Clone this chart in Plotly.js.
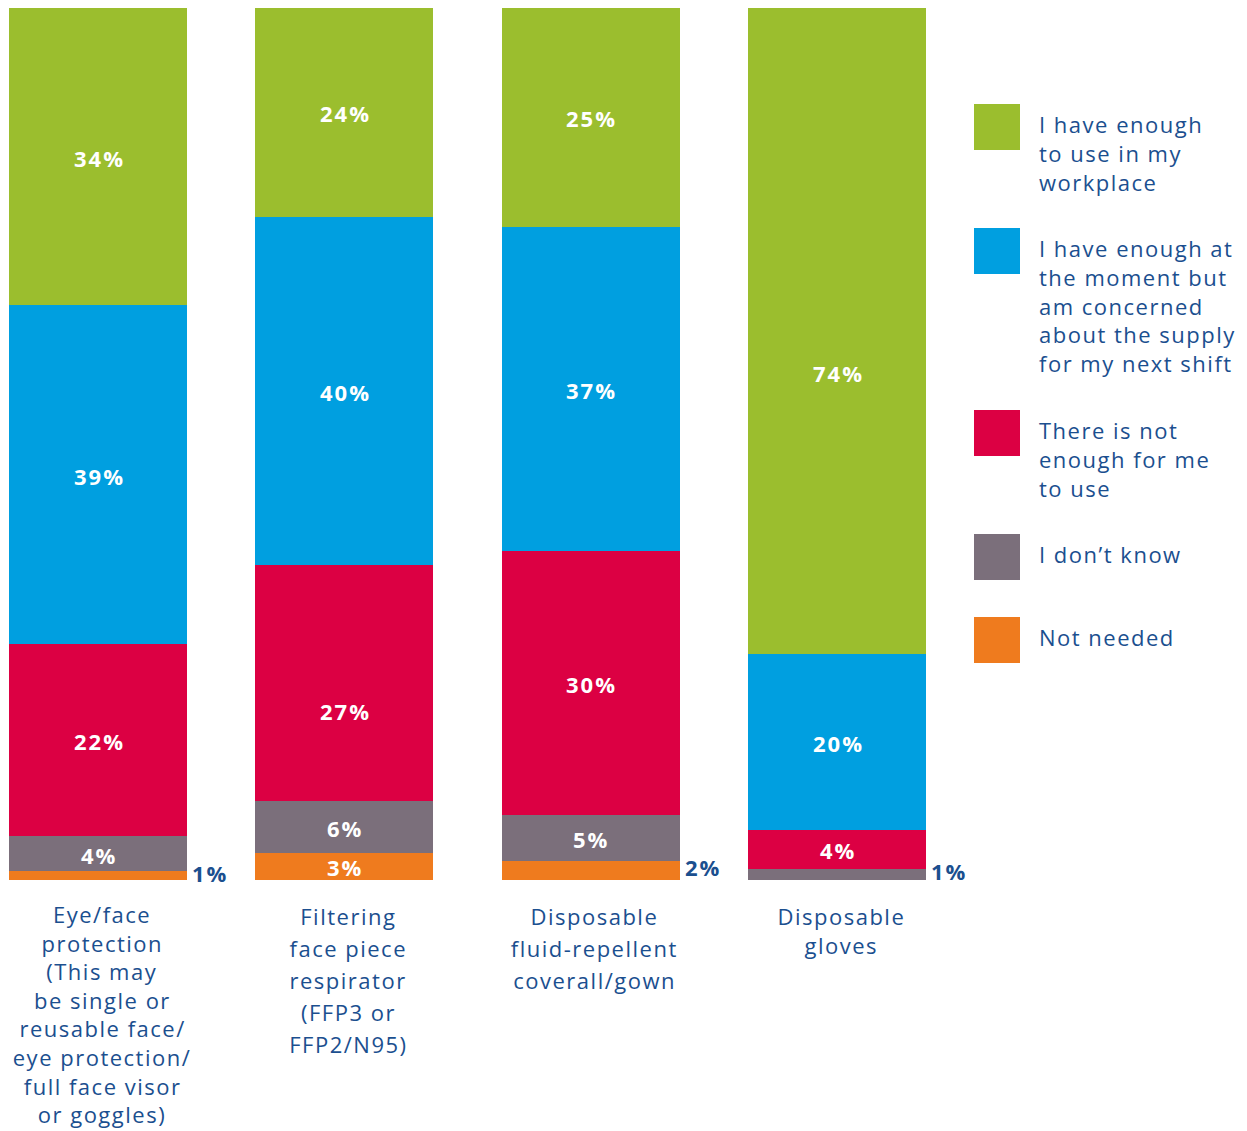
<!DOCTYPE html>
<html>
<head>
<meta charset="utf-8">
<script src="https://cdn.plot.ly/plotly-3.0.1.min.js"></script>
<style>
html,body{margin:0;padding:0;background:#fff;}
#chart .annotation-text{letter-spacing:1.5px;}
#chart .annotation-text[style*="700"]{letter-spacing:2px;}
</style>
</head>
<body>
<div id="chart" style="width:1247px;height:1131px"></div>
<script>
// ---------- DATA ----------
const categories = [
  "Eye/face protection (This may be single or reusable face/ eye protection/ full face visor or goggles)",
  "Filtering face piece respirator (FFP3 or FFP2/N95)",
  "Disposable fluid-repellent coverall/gown",
  "Disposable gloves"
];
const categoryLines = [
  ["Eye/face", "protection", "(This may", "be single or", "reusable face/", "eye protection/", "full face visor", "or goggles)"],
  ["Filtering", "face piece", "respirator", "(FFP3 or", "FFP2/N95)"],
  ["Disposable", "fluid-repellent", "coverall/gown"],
  ["Disposable", "gloves"]
];
const seriesNames = [
  "I have enough to use in my workplace",
  "I have enough at the moment but am concerned about the supply for my next shift",
  "There is not enough for me to use",
  "I don\u2019t know",
  "Not needed"
];
const legendLines = [
  ["I have enough", "to use in my", "workplace"],
  ["I have enough at", "the moment but", "am concerned", "about the supply", "for my next shift"],
  ["There is not", "enough for me", "to use"],
  ["I don\u2019t know"],
  ["Not needed"]
];
const haveEnough     = [34.1, 24.1, 25.2, 74.2];
const concerned      = [38.8, 39.9, 37.2, 20.2];
const notEnough      = [22.1, 27.0, 30.2, 4.4];
const dontKnow       = [4.0, 6.0, 5.3, 1.3];
const notNeeded      = [1.0, 3.1, 2.2, 0];

// ---------- STYLE ----------
const colors = ["#9bbe2e", "#009fe0", "#dc0043", "#7b6f7b", "#ef7b1e"];
const textBlue = "#1b4f8f";
const FONT = "Open Sans, Liberation Sans, sans-serif";
const seriesValues = [haveEnough, concerned, notEnough, dontKnow, notNeeded];

// plot-area pixel geometry
const L = 9, R = 926, T = 8, B = 880;
const W = R - L, H = B - T;
const px = x => (x - L) / W;
const py = y => (B - y) / H;

// bottom-to-top stacking order
const stackOrder = [4, 3, 2, 1, 0];
const traces = stackOrder.map(s => ({
  type: "bar",
  name: seriesNames[s],
  x: categories.map((c, i) => i),
  y: seriesValues[s],
  marker: {color: colors[s], line: {width: 0}},
  showlegend: false,
  hoverinfo: "skip"
}));

const annotations = [];
const labelNudge = {"2-1": -27, "0-3": -41}; // series-category pixel nudges
categories.forEach((c, i) => {
  let base = 0;
  stackOrder.forEach(s => {
    const v = seriesValues[s][i];
    if (v > 0) {
      const label = Math.round(v) + "%";
      const mid = base + v / 2;
      if (v >= 2.5) {
        annotations.push({
          x: i, y: mid, xref: "x", yref: "y", text: label, showarrow: false,
          xshift: 1, yshift: (labelNudge[s + "-" + i] || 0) - 1,
          font: {family: FONT, size: 22, color: "#ffffff", weight: 700}
        });
      } else {
        annotations.push({
          x: i + 0.3613, y: mid, xref: "x", yref: "y", text: label, showarrow: false,
          xanchor: "left", align: "left", xshift: 3, yshift: 3,
          font: {family: FONT, size: 22, color: textBlue, weight: 700}
        });
      }
    }
    base += v;
  });
});

// category labels below bars
const catLineGap = [28.6, 32, 32, 29];
const catFirstLine = [914, 916, 916, 916];
categoryLines.forEach((lines, i) => {
  lines.forEach((t, j) => {
    annotations.push({
      x: i, xref: "x", xshift: 4, y: py(catFirstLine[i] + j * catLineGap[i]), yref: "paper",
      text: t, showarrow: false, xanchor: "center", yanchor: "middle",
      font: {family: FONT, size: 22, color: textBlue}
    });
  });
});

// custom legend
const swatchTop = [104, 228, 410, 534, 617];
const shapes = [];
seriesNames.forEach((n, s) => {
  shapes.push({
    type: "rect", xref: "paper", yref: "paper",
    x0: px(974), x1: px(1020), y0: py(swatchTop[s] + 46), y1: py(swatchTop[s]),
    fillcolor: colors[s], line: {width: 0}
  });
  legendLines[s].forEach((t, j) => {
    annotations.push({
      x: px(1037), xref: "paper", y: py(swatchTop[s] + 20 + j * 28.8), yref: "paper",
      text: t, showarrow: false, xanchor: "left", align: "left", yanchor: "middle",
      font: {family: FONT, size: 22, color: textBlue}
    });
  });
});

const layout = {
  width: 1247, height: 1131,
  margin: {l: L, r: 1247 - R, t: T, b: 1131 - B, pad: 0},
  barmode: "stack",
  bargap: 1 - 0.7226,
  paper_bgcolor: "#ffffff", plot_bgcolor: "#ffffff",
  xaxis: {range: [-0.3613, 3.3613], showticklabels: false, showgrid: false, zeroline: false, showline: false, fixedrange: true},
  yaxis: {range: [0, 100], showticklabels: false, showgrid: false, zeroline: false, showline: false, fixedrange: true},
  annotations: annotations,
  shapes: shapes,
  font: {family: FONT}
};

Plotly.newPlot("chart", traces, layout, {displayModeBar: false, staticPlot: true});
</script>
</body>
</html>
